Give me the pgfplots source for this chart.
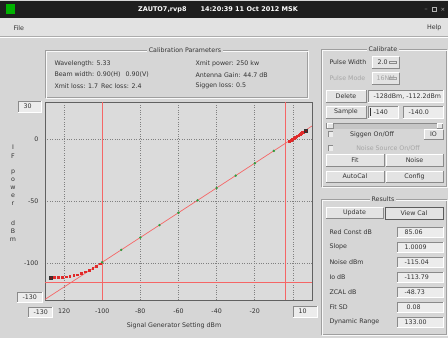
\documentclass[border=0pt]{standalone}
\usepackage{fontspec}
\setmainfont{DejaVu Sans}
\usepackage{pgfplots}
\pgfplotsset{compat=1.18}
\definecolor{winbg}{HTML}{D6D6D6}
\definecolor{plotbg}{HTML}{DBDBDB}
\definecolor{menubg}{HTML}{E2E2E2}
\definecolor{titlebg}{HTML}{1E1E1E}
\definecolor{txt}{HTML}{333333}
\definecolor{dis}{HTML}{A6A6A6}
\definecolor{btnfill}{HTML}{E3E3E3}
\definecolor{fldfill}{HTML}{ECECEC}
\definecolor{edge}{HTML}{8A8A8A}
\definecolor{redl}{HTML}{F56666}
\definecolor{redd}{HTML}{E02A2A}
\definecolor{grn}{HTML}{2E9E3E}
\newcommand\fs{\fontsize{6.3}{7.3}\selectfont}
\newcommand\btn[5]{%
  \fill[btnfill] (#1,#2) rectangle (#3,#4);
  \draw[white, line width=0.6pt] (#1,#4) -- (#1,#2) -- (#3,#2);
  \draw[edge, line width=0.6pt] (#1,#4) -- (#3,#4) -- (#3,#2);
  \node[font=\fs, text=txt] at ({(#1+#3)/2},{(#2+#4)/2}) {#5};}
\newcommand\fld[5]{%
  \fill[fldfill] (#1,#2) rectangle (#3,#4);
  \draw[edge, line width=0.6pt] (#1,#4) -- (#1,#2) -- (#3,#2);
  \draw[white, line width=0.6pt] (#1,#4) -- (#3,#4) -- (#3,#2);
  \node[font=\fs, text=txt, anchor=west] at ({#1+2},{(#2+#4)/2}) {#5};}
\newcommand\grp[6]{%
  \draw[gray!75, line width=0.5pt] (#1,#2) rectangle (#3,#4);
  \draw[white!85!winbg, line width=0.5pt] ({#1+0.8},{#2+0.8}) rectangle ({#3+0.8},{#4+0.8});
  \node[fill=winbg, inner sep=1.5pt, font=\fs, text=txt] at (#5,#2) {#6};}
\newcommand\chk[2]{%
  \fill[fldfill] (#1,#2) rectangle ({#1+5},{#2+5});
  \draw[edge, line width=0.5pt] (#1,{#2+5}) -- (#1,#2) -- ({#1+5},#2);}
\begin{document}
\begin{tikzpicture}
\begin{scope}[x=1pt,y=-1pt]
\fill[winbg] (0,0) rectangle (448,338);
\useasboundingbox (0,0) rectangle (448,338);
% title bar
\fill[titlebg] (0,1) rectangle (448,18);
\fill[green!70!black] (6,4) rectangle (15,14);
\node[font=\fontsize{6.5}{7.5}\selectfont\bfseries, text=white] at (218,9.5) {ZAUTO7,rvp8\hspace{14pt}14:20:39 11 Oct 2012 MSK};
\node[font=\fontsize{5}{6}\selectfont, text=gray!60] at (426,9.5) {\_};
\draw[gray!60, line width=0.4pt] (432.5,7.5) rectangle (436.5,11.5);
\node[font=\fontsize{5.5}{6}\selectfont, text=gray!60] at (443,9.5) {×};
% menu bar
\fill[menubg] (0,18) rectangle (448,36);
\draw[gray!65] (0,36.5) -- (448,36.5);
\draw[white] (0,37.3) -- (448,37.3);
\node[font=\fs, text=txt, anchor=west] at (10,28) {File};
\node[font=\fs, text=txt, anchor=east] at (445,28) {Help};
% calibration parameters
\grp{45}{50}{307}{97}{185}{Calibration Parameters}
\node[font=\fs, text=txt, anchor=west] at (51,64) {Wavelength: 5.33};
\node[font=\fs, text=txt, anchor=west] at (51,75) {Beam width: 0.90(H)\hspace{5pt}0.90(V)};
\node[font=\fs, text=txt, anchor=west] at (51,86) {Xmit loss: 1.7\hspace{3pt}Rec loss: 2.4};
\node[font=\fs, text=txt, anchor=west] at (192,64) {Xmit power: 250 kw};
\node[font=\fs, text=txt, anchor=west] at (192,75) {Antenna Gain: 44.7 dB};
\node[font=\fs, text=txt, anchor=west] at (192,86) {Siggen loss: 0.5};
% axis end boxes
\fld{18}{101}{41}{112}{30}
\fld{17}{292}{42}{302}{-130}
\fld{28}{307}{52}{317}{-130}
\fld{293}{306}{317}{317}{10}
% y label letters
\foreach \l/\yy in {I/147,F/156,p/172,o/180,w/188,e/196,r/204,d/223,B/231,m/240}
  \node[font=\fs, text=txt] at (13,\yy) {\l};
\node[font=\fs, text=txt] at (174,326) {Signal Generator Setting dBm};
% calibrate group
\grp{321}{49}{446}{186}{383}{Calibrate}
\node[font=\fs, text=txt, anchor=west] at (326,62) {Pulse Width};
\btn{372}{56.5}{399}{68}{}
\node[font=\fs, text=txt, anchor=west] at (374,62.2) {2.0};
\draw[edge, fill=btnfill, line width=0.4pt] (389,61) rectangle (396,63.5);
\node[font=\fs, text=dis, anchor=west] at (326,78) {Pulse Mode};
\btn{372}{72.5}{399}{84}{}
\node[font=\fs, text=dis, anchor=west] at (373,78.2) {16NM};
\draw[dis, line width=0.4pt] (389,77) rectangle (396,79.5);
\btn{326}{90}{366}{102}{Delete}
\fld{368}{90}{443}{102}{-128dBm, -112.2dBm}
\btn{326}{106}{366}{118}{Sample}
\fld{368}{106}{398}{118}{-140}
\fld{403}{106}{443}{118}{-140.0}
\draw[txt, line width=0.5pt] (370,108) -- (370,116);
\fill[gray!45] (326,123) rectangle (443,128.5);
\draw[edge, line width=0.4pt] (326,128.5) -- (326,123) -- (443,123);
\btn{327}{123.5}{333}{128}{}
\btn{437}{123.5}{442.5}{128}{}
\chk{328}{131.5}
\node[font=\fs, text=txt] at (372,134.3) {Siggen On/Off};
\btn{424}{129.5}{443}{139}{IO}
\chk{328}{145.5}
\node[font=\fs, text=dis] at (388,148.3) {Noise Source On/Off};
\btn{326}{154}{384}{166}{Fit}
\btn{386}{154}{443}{166}{Noise}
\btn{326}{171}{384}{182}{AutoCal}
\btn{386}{171}{443}{182}{Config}
% results group
\grp{321}{199}{446}{334}{383}{Results}
\btn{326}{207.5}{383}{218.5}{Update}
\btn{385}{207}{443}{219}{View Cal}
\draw[txt!80, line width=0.8pt] (385,207) rectangle (443,219);
\foreach \lab/\val/\yy in {Red Const dB/85.06/232, Slope/1.0009/247, Noise dBm/-115.04/262, Io dB/-113.79/277, ZCAL dB/-48.73/292, Fit SD/\hspace{2pt}0.08/307, Dynamic Range/133.00/322}{
  \node[font=\fs, text=txt, anchor=west] at (326,\yy) {\lab};
  \fld{397}{\yy-5}{443}{\yy+5}{\hspace{2pt}\val}
}
\end{scope}
\begin{axis}[
  at={(45pt,-102pt)}, anchor=north west,
  scale only axis, width=267pt, height=198pt,
  xmin=-130, xmax=10, ymin=-130, ymax=30,
  axis background/.style={fill=plotbg},
  axis line style={draw=edge!70!black, line width=0.8pt},
  xtick={-120,-100,-80,-60,-40,-20,0},
  xticklabels={120,-100,-80,-60,-40,-20,{}},
  ytick={-100,-50,0},
  yticklabels={-100,-50,0},
  major tick length=0pt,
  grid=major,
  major grid style={line width=0.6pt, black!50, dash pattern=on 0.8pt off 1.6pt},
  tick label style={font=\fontsize{6.3}{7}\selectfont, text=txt},
  xticklabel style={yshift=-5pt},
  yticklabel style={xshift=-3pt},
]
\addplot[redl, line width=0.7pt] coordinates {(-130,-129.5) (10,10.6)};
\addplot[redl, line width=0.6pt] coordinates {(-100,-130) (-100,30)};
\addplot[redl, line width=0.6pt] coordinates {(-4,-130) (-4,30)};
\addplot[redl, line width=0.6pt] coordinates {(-130,-115.5) (10,-115.5)};
\addplot[only marks, mark=*, mark size=1pt, grn] coordinates {
(-100,-99.5) (-90,-89.5) (-80,-79.5) (-70,-69.5) (-60,-59.5)
(-50,-49.5) (-40,-39.5) (-30,-29.5) (-20,-19.5) (-10,-9.5)};
\addplot[only marks, mark=square*, mark size=0.9pt, redd] coordinates {
(-125,-111.8) (-123,-111.7) (-121,-111.5) (-119,-111.2) (-117,-110.8)
(-115,-110.2) (-113,-109.5) (-111,-108.5) (-109,-107.2) (-107,-105.8)
(-105,-104.2) (-103,-102.5) (-101,-100.7)};
\addplot[only marks, mark=square*, mark size=0.9pt, redd] coordinates {
(-2,-1.7) (-1.5,-1.2) (-1,-0.7) (-0.5,-0.2) (0,0.3) (0.5,0.8) (1,1.3)
(1.5,1.8) (2,2.3) (2.5,2.8) (3,3.3) (3.5,3.8) (4,4.3) (4.5,4.8) (5,5.3) (5.5,5.8)};
\addplot[only marks, mark=square*, mark size=1.6pt, draw=black!80, fill=redd!55!black] coordinates {
(-127,-112.2) (6.5,6.7)};
\end{axis}
\end{tikzpicture}
\end{document}
